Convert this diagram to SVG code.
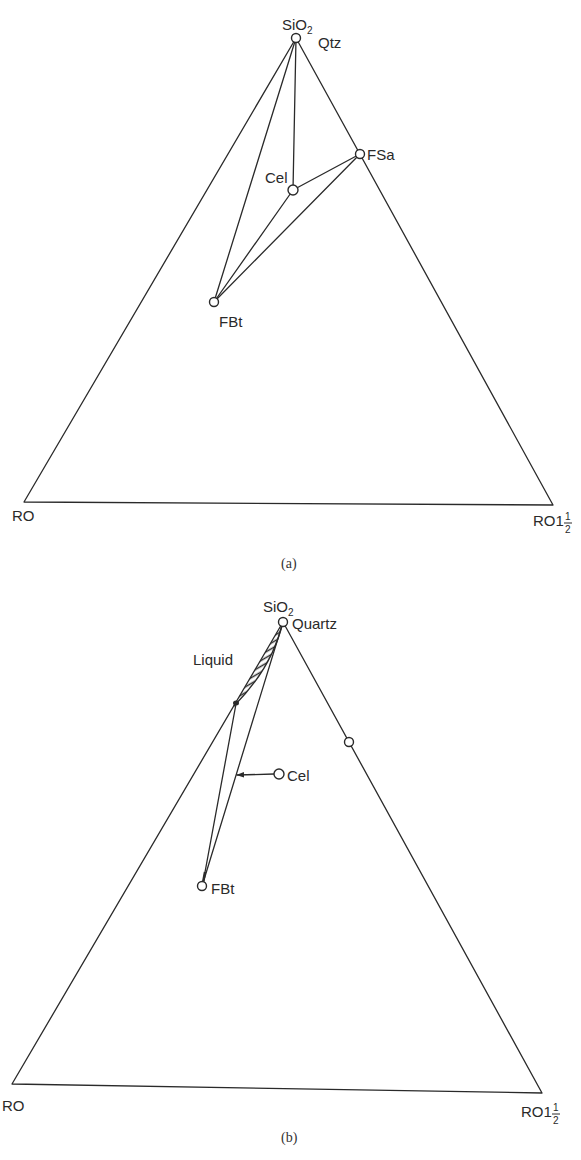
<svg xmlns="http://www.w3.org/2000/svg" width="581" height="1160" viewBox="0 0 581 1160">
<style>
.ln{stroke:#2a2a2a;stroke-width:1.3;fill:none;stroke-linecap:round;stroke-linejoin:round}
.pt{stroke:#2a2a2a;stroke-width:1.4;fill:#fff}
.lb{font-family:"Liberation Sans",Arial,sans-serif;font-size:15px;fill:#2a2a2a}
.sb{font-family:"Liberation Sans",Arial,sans-serif;font-size:10px;fill:#2a2a2a}
.cap{font-family:"Liberation Serif","Times New Roman",serif;font-size:14px;fill:#333}
</style>
<defs>
<marker id="ah" viewBox="0 0 10 10" refX="9" refY="5" markerWidth="6" markerHeight="6" orient="auto">
<path d="M0,1.5 L10,5 L0,8.5 z" fill="#2a2a2a"/>
</marker>
<pattern id="hatch" width="5" height="5" patternUnits="userSpaceOnUse" patternTransform="rotate(-30)">
<line x1="0" y1="2.5" x2="5" y2="2.5" stroke="#2a2a2a" stroke-width="1.5"/>
</pattern>
<clipPath id="lensclip"><path d="M283,622 L233,707 Q272,668 283,622 z"/></clipPath>
</defs>

<g id="diagram-a">
<g id="connectors-a">
<path class="ln" d="M296,38 L24,502 L553,505 Z"/>
<line class="ln" x1="296" y1="38" x2="214" y2="302"/>
<line class="ln" x1="296" y1="38" x2="293" y2="190"/>
<line class="ln" x1="214" y1="302" x2="293" y2="190"/>
<line class="ln" x1="214" y1="302" x2="360" y2="154"/>
<line class="ln" x1="293" y1="190" x2="360" y2="154"/>
</g>
<g id="node-a-qtz"><circle class="pt" cx="296" cy="38" r="4.5"/>
<text class="lb" x="282" y="30">SiO<tspan class="sb" font-size="11" dy="4">2</tspan></text>
<text class="lb" x="318" y="48">Qtz</text></g>
<g id="node-a-fsa"><circle class="pt" cx="360" cy="154" r="4.5"/><text class="lb" x="367" y="160">FSa</text></g>
<g id="node-a-cel"><circle class="pt" cx="293" cy="190" r="5"/><text class="lb" x="265" y="183">Cel</text></g>
<g id="node-a-fbt"><circle class="pt" cx="214" cy="302" r="4.5"/><text class="lb" x="219" y="327">FBt</text></g>
<g id="node-a-ro"><text class="lb" x="12" y="521">RO</text></g>
<g id="node-a-ro15"><text class="lb" x="533" y="526">RO1</text>
<text class="sb" x="565" y="520">1</text><line x1="564" y1="523" x2="572" y2="523" stroke="#2a2a2a" stroke-width="1"/><text class="sb" x="565" y="533">2</text></g>
<text class="cap" x="281" y="568">(a)</text>
</g>

<g id="diagram-b">
<g id="liquid">
<path d="M283,622 L233,707 Q272,668 283,622 z" fill="#fff"/>
<g clip-path="url(#lensclip)"><rect x="225" y="615" width="65" height="100" fill="url(#hatch)"/></g>
<path class="ln" d="M283,622 Q272,668 234,706"/>
<ellipse cx="236" cy="703" rx="3" ry="2.5" fill="#2a2a2a"/>
<text class="lb" x="193" y="665">Liquid</text>
</g>
<g id="connectors-b">
<path class="ln" d="M283,622 L12,1084 L542,1093 Z"/>
<line class="ln" x1="236" y1="704" x2="203" y2="883"/>
<line class="ln" x1="283" y1="622" x2="203" y2="883"/>
<line class="ln" x1="274" y1="774" x2="237" y2="775" marker-end="url(#ah)"/>
<line x1="203" y1="883" x2="205" y2="872" stroke="#2a2a2a" stroke-width="2.5"/>
</g>
<g id="node-b-quartz"><circle class="pt" cx="283" cy="622" r="4.5"/>
<text class="lb" x="263" y="612">SiO<tspan class="sb" font-size="11" dy="4">2</tspan></text>
<text class="lb" x="292" y="629">Quartz</text></g>
<g id="node-b-side"><circle class="pt" cx="349" cy="742" r="4.5"/></g>
<g id="node-b-cel"><circle class="pt" cx="279" cy="774" r="5"/><text class="lb" x="287" y="781">Cel</text></g>
<g id="node-b-fbt"><circle class="pt" cx="202" cy="886" r="4.5"/><text class="lb" x="211" y="894">FBt</text></g>
<g id="node-b-ro"><text class="lb" x="2" y="1111">RO</text></g>
<g id="node-b-ro15"><text class="lb" x="521" y="1117">RO1</text>
<text class="sb" x="553" y="1111">1</text><line x1="552" y1="1114" x2="560" y2="1114" stroke="#2a2a2a" stroke-width="1"/><text class="sb" x="553" y="1124">2</text></g>
<text class="cap" x="281" y="1142">(b)</text>
</g>
</svg>
